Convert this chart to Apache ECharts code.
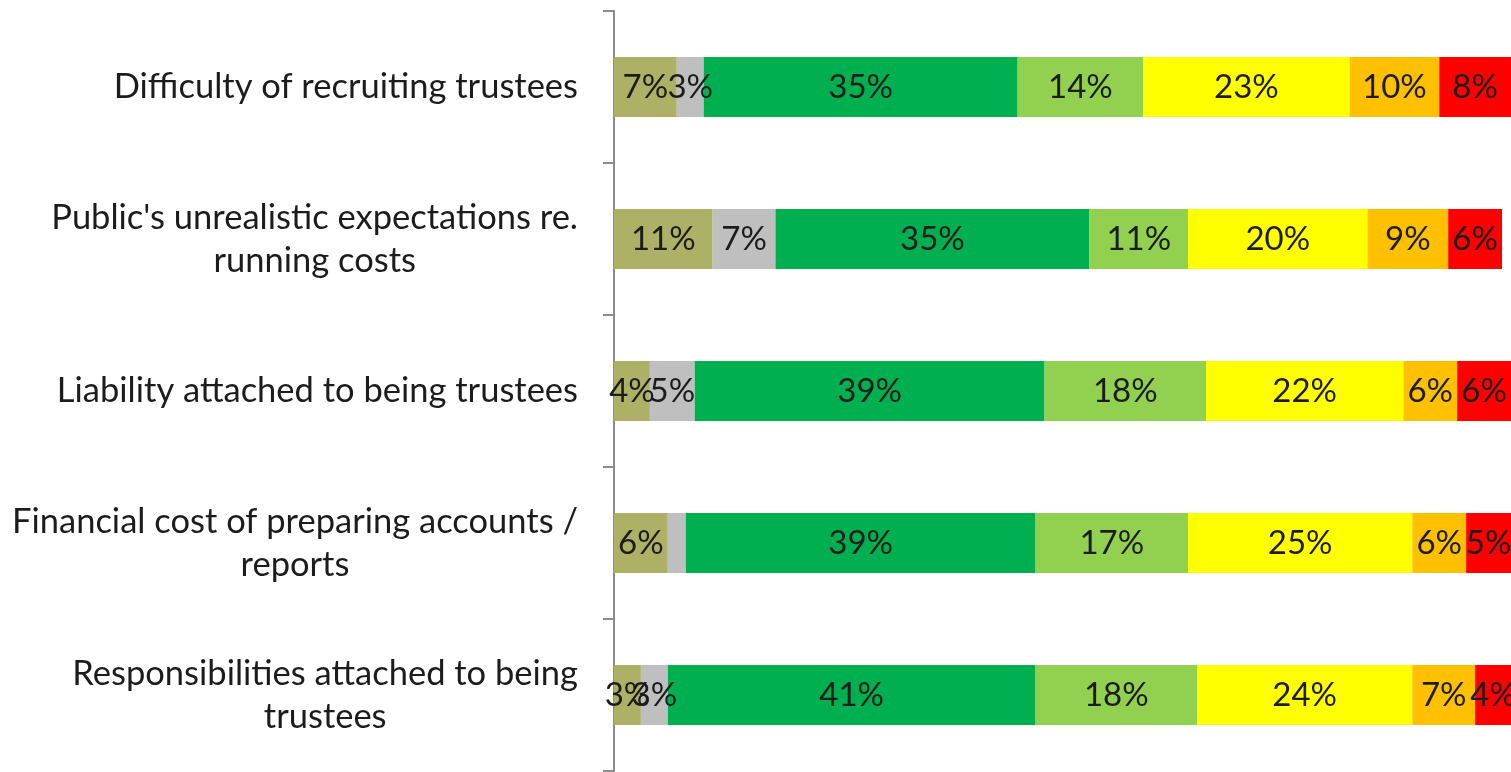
<!DOCTYPE html>
<html>
<head>
<meta charset="utf-8">
<script src="https://cdn.jsdelivr.net/npm/echarts@6/dist/echarts.min.js"></script>
<style>
  html, body { margin: 0; padding: 0; background: #fff; }
  #chart { width: 1511px; height: 772px; }
</style>
</head>
<body>
<div id="chart"></div>
<script>
// Categories listed top to bottom
const categories = [
  "Difficulty of recruiting trustees",
  "Public's unrealistic expectations re.\nrunning costs",
  "Liability attached to being trustees",
  "Financial cost of preparing accounts /\nreports",
  "Responsibilities attached to being\ntrustees"
];

// Percentages per segment, same order as categories
const seriesOlive  = [7, 11, 4, 6, 3];
const seriesGrey   = [3, 7, 5, 2, 3];
const seriesGreen  = [35, 35, 39, 39, 41];
const seriesLime   = [14, 11, 18, 17, 18];
const seriesYellow = [23, 20, 22, 25, 24];
const seriesOrange = [10, 9, 6, 6, 7];
const seriesRed    = [8, 6, 6, 5, 4];

const segments = [
  { data: seriesOlive,  color: '#ADB165' },
  { data: seriesGrey,   color: '#BFBFBF' },
  { data: seriesGreen,  color: '#00B050' },
  { data: seriesLime,   color: '#92D050' },
  { data: seriesYellow, color: '#FFFF00' },
  { data: seriesOrange, color: '#FFC000' },
  { data: seriesRed,    color: '#FF0000' }
];

const FONT = 'Lato, "Open Sans", sans-serif';
const TEXT = '#1c1c1c';

const chart = echarts.init(document.getElementById('chart'), null, { renderer: 'canvas' });

chart.setOption({
  animation: false,
  grid: { left: 614, right: -3, top: 11, bottom: 1, containLabel: false },
  xAxis: {
    type: 'value',
    min: 0,
    max: 100,
    show: false
  },
  yAxis: {
    type: 'category',
    inverse: true,
    data: categories,
    axisLine: { show: true, lineStyle: { color: '#8C8C8C', width: 2 } },
    axisTick: { show: true, length: 11, lineStyle: { color: '#8C8C8C', width: 2 } },
    axisLabel: {
      margin: 36,
      color: TEXT,
      fontFamily: FONT,
      fontSize: 34.5,
      lineHeight: 43,
      align: 'right',
      // each wrapped line is centred within the label block
      formatter: v => v.split('\n').map(l => '{c|' + l + '}').join('\n'),
      rich: {
        c: { align: 'center', color: TEXT, fontFamily: FONT, fontSize: 34.5, lineHeight: 43 }
      }
    },
    splitLine: { show: false }
  },
  series: segments.map(s => ({
    type: 'bar',
    stack: 'total',
    barWidth: 60,
    data: s.data,
    itemStyle: { color: s.color },
    label: {
      show: true,
      position: 'inside',
      color: TEXT,
      fontFamily: FONT,
      fontSize: 33,
      formatter: p => (p.value >= 3 ? p.value + '%' : '')
    }
  }))
});
</script>
</body>
</html>
